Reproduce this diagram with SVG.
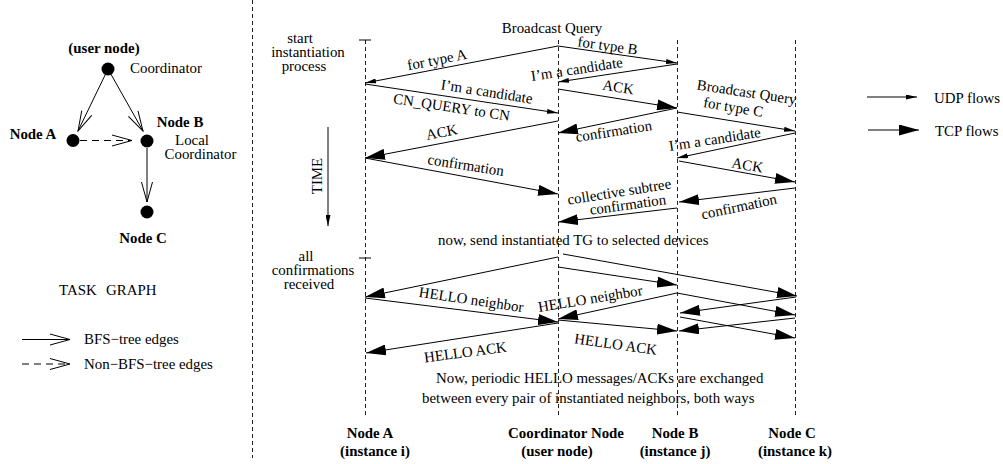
<svg xmlns="http://www.w3.org/2000/svg" width="1003" height="464" viewBox="0 0 1003 464">
  <style>
    text { font-family: "Liberation Serif", "Times New Roman", serif; font-size: 14.9px; fill: #000; }
    .b { font-weight: bold; }
    .m { text-anchor: middle; }
    .ln { stroke: #000; stroke-width: 1; fill: none; }
    .life { stroke: #222; stroke-width: 1; stroke-dasharray: 4 3; fill: none; }
    .sep { stroke: #222; stroke-width: 1; stroke-dasharray: 4 3; fill: none; }
    .dash { stroke: #000; stroke-width: 1; stroke-dasharray: 7 5; fill: none; }
    .udp { marker-end: url(#udp); }
    .tcp { marker-end: url(#tcp); }
    .bfs { marker-end: url(#open); }
    .dot { fill: #000; }
  </style>
  <defs>
    <marker id="udp" markerUnits="userSpaceOnUse" viewBox="0 0 11 5" refX="11" refY="2.5" markerWidth="11" markerHeight="5" orient="auto">
      <path d="M0,0 L11,2.5 L0,5 z" fill="#000"/>
    </marker>
    <marker id="tcp" markerUnits="userSpaceOnUse" viewBox="0 0 20 11" refX="20" refY="5.5" markerWidth="20" markerHeight="11" orient="auto">
      <path d="M0,0 L20,5.5 L0,11 z" fill="#000"/>
    </marker>
    <marker id="open" markerUnits="userSpaceOnUse" viewBox="-1 -1 22 13" refX="20" refY="5.5" markerWidth="22" markerHeight="13" orient="auto">
      <path d="M0,0 L20,5.5 L0,11" fill="none" stroke="#000" stroke-width="1"/>
    </marker>
  </defs>

  <!-- panel separator -->
  <line class="sep" x1="252.5" y1="0" x2="252.5" y2="458"/>

  <!-- ===== Task graph ===== -->
  <g id="tg-coordinator">
    <circle class="dot" cx="108" cy="69" r="6.5"/>
    <text class="b m" x="104" y="53">(user node)</text>
    <text x="130" y="73">Coordinator</text>
  </g>
  <g id="tg-node-a">
    <circle class="dot" cx="73" cy="140.5" r="6.5"/>
    <text class="b m" x="33" y="139">Node A</text>
  </g>
  <g id="tg-node-b">
    <circle class="dot" cx="147" cy="141" r="6.5"/>
    <text class="b m" x="180" y="127">Node B</text>
    <text class="m" x="192" y="145">Local</text>
    <text class="m" x="200.5" y="159">Coordinator</text>
  </g>
  <g id="tg-node-c">
    <circle class="dot" cx="147" cy="212" r="6.5"/>
    <text class="b m" x="143" y="243">Node C</text>
  </g>
  <g id="tg-title">
    <text x="59" y="295">TASK<tspan x="106">GRAPH</tspan></text>
  </g>
  <g id="tg-legend">
    <line class="ln bfs" x1="22" y1="339.5" x2="70" y2="339.5"/>
    <text x="84" y="344">BFS−tree edges</text>
    <line class="dash bfs" x1="22" y1="364" x2="70" y2="364"/>
    <text x="84" y="369">Non−BFS−tree edges</text>
  </g>

  <!-- ===== Sequence lifelines ===== -->
  <g id="ll-node-a">
    <line class="life" x1="365.5" y1="40" x2="365.5" y2="418"/>
    <line class="ln" x1="359" y1="40" x2="371" y2="40"/>
    <line class="ln" x1="359" y1="258" x2="371" y2="258"/>
    <text class="b m" x="370" y="438">Node A</text>
    <text class="b m" x="375" y="456">(instance i)</text>
  </g>
  <g id="ll-coordinator">
    <line class="life" x1="558.5" y1="40" x2="558.5" y2="418"/>
    <text class="b m" x="566" y="438">Coordinator Node</text>
    <text class="b m" x="557" y="456">(user node)</text>
  </g>
  <g id="ll-node-b">
    <line class="life" x1="677.5" y1="40" x2="677.5" y2="418"/>
    <text class="b m" x="675" y="438">Node B</text>
    <text class="b m" x="675" y="456">(instance j)</text>
  </g>
  <g id="ll-node-c">
    <line class="life" x1="795.5" y1="40" x2="795.5" y2="418"/>
    <text class="b m" x="792" y="438">Node C</text>
    <text class="b m" x="795" y="456">(instance k)</text>
  </g>

  <!-- phase annotations and time axis -->
  <g id="phase-start">
    <text class="m" x="300" y="43">start</text>
    <text class="m" x="308" y="57">instantiation</text>
    <text class="m" x="304" y="71">process</text>
  </g>
  <g id="phase-end">
    <text class="m" x="306" y="261">all</text>
    <text class="m" x="313" y="275">confirmations</text>
    <text class="m" x="309" y="289">received</text>
  </g>
  <g id="time-axis">
    <line class="ln udp" x1="328" y1="127" x2="328" y2="226"/>
    <text class="m" transform="translate(322,176) rotate(-90)">TIME</text>
  </g>

  <!-- flow legend -->
  <g id="flow-legend">
    <line class="ln udp" x1="867" y1="97" x2="917" y2="97"/>
    <text x="934" y="103">UDP flows</text>
    <line class="ln tcp" x1="868" y1="130" x2="919" y2="130"/>
    <text x="935" y="136">TCP flows</text>
  </g>

  <!-- ===== Connectors ===== -->
  <g id="connectors">
    <!-- task graph edges -->
    <line class="ln bfs" x1="108" y1="69" x2="78" y2="131"/>
    <line class="ln bfs" x1="108" y1="69" x2="143" y2="131"/>
    <line class="dash bfs" x1="80" y1="140.5" x2="132" y2="140.5"/>
    <line class="ln bfs" x1="147" y1="148" x2="147" y2="202"/>

    <!-- discovery phase -->
    <line class="ln udp" x1="558" y1="46" x2="365" y2="83"/>
    <line class="ln udp" x1="558" y1="46" x2="677" y2="63"/>
    <line class="ln udp" x1="677" y1="64" x2="558" y2="82"/>
    <line class="ln udp" x1="365" y1="84" x2="558" y2="113"/>
    <line class="ln tcp" x1="558" y1="89" x2="677" y2="108"/>
    <line class="ln tcp" x1="558" y1="121" x2="365" y2="158"/>
    <line class="ln tcp" x1="677" y1="108" x2="558" y2="133"/>
    <line class="ln udp" x1="677" y1="112" x2="795" y2="131"/>
    <line class="ln udp" x1="795" y1="133" x2="677" y2="158"/>
    <line class="ln tcp" x1="365" y1="158" x2="558" y2="194"/>
    <line class="ln tcp" x1="679" y1="161" x2="795" y2="182"/>
    <line class="ln tcp" x1="795" y1="188" x2="679" y2="202"/>
    <line class="ln tcp" x1="677" y1="208" x2="558" y2="222"/>

    <!-- deployment phase -->
    <line class="ln tcp" x1="558" y1="257" x2="365" y2="297"/>
    <line class="ln tcp" x1="563" y1="254" x2="797" y2="296"/>
    <line class="ln tcp" x1="558" y1="267" x2="677" y2="285"/>

    <!-- HELLO exchange -->
    <line class="ln tcp" x1="365" y1="298" x2="558" y2="322"/>
    <line class="ln tcp" x1="677" y1="293" x2="558" y2="319"/>
    <line class="ln tcp" x1="677" y1="293" x2="795" y2="315"/>
    <line class="ln tcp" x1="796" y1="297" x2="680" y2="313"/>
    <line class="ln tcp" x1="558" y1="320" x2="677" y2="331"/>
    <line class="ln tcp" x1="795" y1="318" x2="679" y2="331"/>
    <line class="ln tcp" x1="680" y1="317" x2="795" y2="338"/>
    <line class="ln tcp" x1="558" y1="323" x2="366" y2="353"/>

    <!-- message labels -->
    <text class="m" x="552" y="33">Broadcast Query</text>
    <text class="m" transform="translate(438,64.5) rotate(-11)">for type A</text>
    <text class="m" transform="translate(607,50.5) rotate(8)">for type B</text>
    <text class="m" transform="translate(577.5,74) rotate(-8.7)">I’m a candidate</text>
    <text class="m" transform="translate(486,96.5) rotate(9)">I’m a candidate</text>
    <text class="m" transform="translate(451,112) rotate(8.6)">CN_QUERY to CN</text>
    <text class="m" transform="translate(617.5,92) rotate(9)">ACK</text>
    <text class="m" transform="translate(442.5,137) rotate(-11)">ACK</text>
    <text class="m" transform="translate(614.5,136) rotate(-9)">confirmation</text>
    <text class="m" transform="translate(746,97) rotate(8.7)">Broadcast Query</text>
    <text class="m" transform="translate(732.5,112) rotate(9.5)">for type C</text>
    <text class="m" transform="translate(715.5,144) rotate(-8.7)">I’m a candidate</text>
    <text class="m" transform="translate(465,170) rotate(9)">confirmation</text>
    <text class="m" transform="translate(746.5,170) rotate(10)">ACK</text>
    <text class="m" transform="translate(740,211.5) rotate(-12)">confirmation</text>
    <text class="m" transform="translate(620,196.5) rotate(-9)">collective subtree</text>
    <text class="m" transform="translate(628.5,209.5) rotate(-8)">confirmation</text>
    <text x="438" y="245">now, send instantiated TG to selected devices</text>
    <text class="m" transform="translate(470.5,304.5) rotate(8.5)">HELLO neighbor</text>
    <text class="m" transform="translate(591,303.5) rotate(-9.4)">HELLO neighbor</text>
    <text class="m" transform="translate(466,357) rotate(-7.5)">HELLO ACK</text>
    <text class="m" transform="translate(615,349) rotate(8)">HELLO ACK</text>
    <text x="436" y="383">Now, periodic HELLO messages/ACKs are exchanged</text>
    <text x="422" y="403">between every pair of instantiated neighbors, both ways</text>
  </g>
</svg>
